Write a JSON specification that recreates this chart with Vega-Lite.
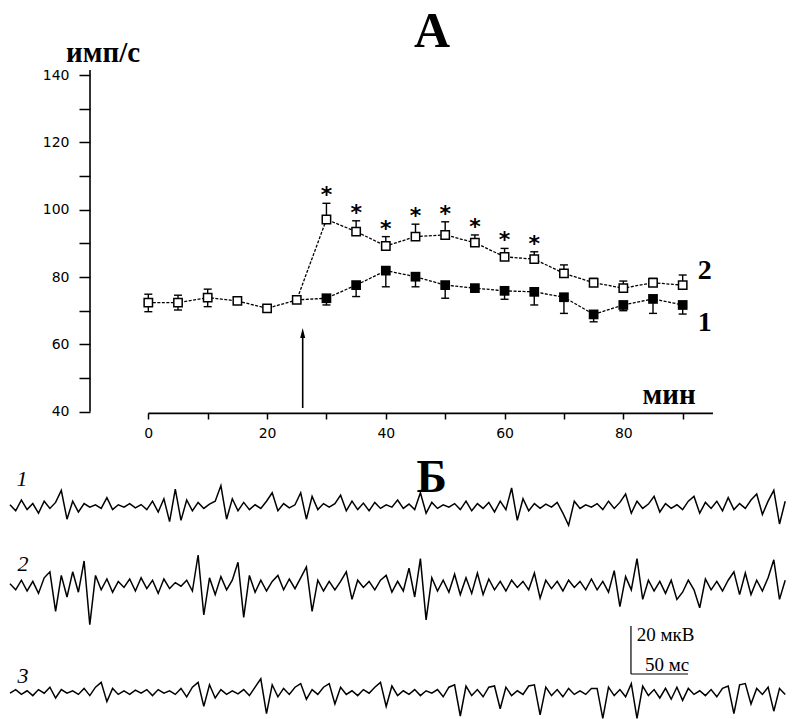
{
  "$schema": "https://vega.github.io/schema/vega-lite/v6.json",
  "width": 792,
  "height": 719,
  "autosize": {"type": "none"},
  "padding": 0,
  "background": "white",
  "config": {"view": {"stroke": null}},
  "resolve": {"scale": {"x": "independent", "y": "independent"}},
  "layer": [
    {
      "data": {"values": [
        {"s":"2","t":0,"v":72.4,"lo":69.7,"hi":74.9},
        {"s":"2","t":5,"v":72.4,"lo":70.2,"hi":74.6},
        {"s":"2","t":10,"v":73.9,"lo":71.2,"hi":76.4},
        {"s":"2","t":15,"v":72.9,"lo":71.9,"hi":73.9},
        {"s":"2","t":20,"v":70.7,"lo":70.0,"hi":71.4},
        {"s":"2","t":25,"v":73.2,"lo":72.4,"hi":74.0},
        {"s":"2","t":30,"v":97.1,"lo":97.1,"hi":101.9,"star":"*"},
        {"s":"2","t":35,"v":93.5,"lo":93.5,"hi":96.7,"star":"*"},
        {"s":"2","t":40,"v":89.2,"lo":89.2,"hi":92.0,"star":"*"},
        {"s":"2","t":45,"v":92.0,"lo":92.0,"hi":95.7,"star":"*"},
        {"s":"2","t":50,"v":92.5,"lo":92.5,"hi":96.4,"star":"*"},
        {"s":"2","t":55,"v":90.2,"lo":90.2,"hi":92.5,"star":"*"},
        {"s":"2","t":60,"v":86.0,"lo":86.0,"hi":88.5,"star":"*"},
        {"s":"2","t":65,"v":85.3,"lo":85.3,"hi":87.5,"star":"*"},
        {"s":"2","t":70,"v":81.1,"lo":81.1,"hi":83.6},
        {"s":"2","t":75,"v":78.3,"lo":78.3,"hi":79.6},
        {"s":"2","t":80,"v":76.7,"lo":76.7,"hi":78.8},
        {"s":"2","t":85,"v":78.3,"lo":78.3,"hi":79.6},
        {"s":"2","t":90,"v":77.6,"lo":77.6,"hi":80.6},
        {"s":"1","t":25,"v":73.2,"lo":73.2,"hi":73.2},
        {"s":"1","t":30,"v":73.7,"lo":71.7,"hi":73.7},
        {"s":"1","t":35,"v":77.6,"lo":74.2,"hi":77.6},
        {"s":"1","t":40,"v":81.9,"lo":77.1,"hi":81.9},
        {"s":"1","t":45,"v":80.1,"lo":77.1,"hi":80.1},
        {"s":"1","t":50,"v":77.6,"lo":73.7,"hi":77.6},
        {"s":"1","t":55,"v":76.7,"lo":75.9,"hi":76.7},
        {"s":"1","t":60,"v":75.9,"lo":73.4,"hi":75.9},
        {"s":"1","t":65,"v":75.6,"lo":71.7,"hi":75.6},
        {"s":"1","t":70,"v":74.0,"lo":69.2,"hi":74.0},
        {"s":"1","t":75,"v":68.9,"lo":66.7,"hi":68.9},
        {"s":"1","t":80,"v":71.7,"lo":70.0,"hi":71.7},
        {"s":"1","t":85,"v":73.5,"lo":69.2,"hi":73.5},
        {"s":"1","t":90,"v":71.7,"lo":69.0,"hi":71.7}
      ]},
      "layer": [
        {
          "mark": {"type": "line", "color": "black", "strokeWidth": 1.3, "strokeDash": [3, 1.5]},
          "encoding": {
            "x": {"field": "t", "type": "quantitative", "scale": {"domain": [-24.98, 108.41], "nice": false, "zero": false},
              "axis": {"values": [0,10,20,30,40,50,60,70,80,90], "labelExpr": "datum.value % 20 == 0 ? datum.label : ''", "offset": -306, "domain": false, "tickSize": 6, "tickWidth": 1.5, "tickColor": "black", "labelColor": "black", "labelFont": "DejaVu Sans", "labelFontSize": 14, "labelPadding": 7, "labelOverlap": false, "labelFlush": false, "labelBound": false, "grid": false, "title": null}},
            "y": {"field": "v", "type": "quantitative", "scale": {"domain": [-51.27, 162.28], "nice": false, "zero": false},
              "axis": {"values": [40,50,60,70,80,90,100,110,120,130,140], "labelExpr": "datum.value % 20 == 0 ? datum.label : ''", "offset": -90, "domain": false, "tickSize": 11, "tickWidth": 1.5, "tickColor": "black", "labelColor": "black", "labelFont": "DejaVu Sans", "labelFontSize": 14, "labelPadding": 10, "labelOverlap": false, "labelBound": false, "grid": false, "title": null}},
            "detail": {"field": "s"}
          }
        },
        {
          "mark": {"type": "rule", "color": "black", "strokeWidth": 1.4},
          "encoding": {
            "x": {"field": "t", "type": "quantitative", "scale": {"domain": [-24.98, 108.41], "nice": false, "zero": false}},
            "y": {"field": "lo", "type": "quantitative", "scale": {"domain": [-51.27, 162.28], "nice": false, "zero": false}},
            "y2": {"field": "hi"}
          }
        },
        {
          "mark": {"type": "rule", "color": "black", "strokeWidth": 1.4, "xOffset": -4, "x2Offset": 4},
          "encoding": {
            "x": {"field": "t", "type": "quantitative", "scale": {"domain": [-24.98, 108.41], "nice": false, "zero": false}},
            "x2": {"field": "t"},
            "y": {"field": "lo", "type": "quantitative", "scale": {"domain": [-51.27, 162.28], "nice": false, "zero": false}}
          }
        },
        {
          "mark": {"type": "rule", "color": "black", "strokeWidth": 1.4, "xOffset": -4, "x2Offset": 4},
          "encoding": {
            "x": {"field": "t", "type": "quantitative", "scale": {"domain": [-24.98, 108.41], "nice": false, "zero": false}},
            "x2": {"field": "t"},
            "y": {"field": "hi", "type": "quantitative", "scale": {"domain": [-51.27, 162.28], "nice": false, "zero": false}}
          }
        },
        {
          "transform": [{"filter": "datum.s == '1' && datum.t >= 30"}],
          "mark": {"type": "point", "shape": "square", "filled": true, "color": "black", "size": 95, "opacity": 1},
          "encoding": {
            "x": {"field": "t", "type": "quantitative", "scale": {"domain": [-24.98, 108.41], "nice": false, "zero": false}},
            "y": {"field": "v", "type": "quantitative", "scale": {"domain": [-51.27, 162.28], "nice": false, "zero": false}}
          }
        },
        {
          "transform": [{"filter": "datum.s == '2'"}],
          "mark": {"type": "point", "shape": "square", "filled": false, "fill": "white", "fillOpacity": 1, "stroke": "black", "strokeWidth": 1.5, "size": 70, "opacity": 1},
          "encoding": {
            "x": {"field": "t", "type": "quantitative", "scale": {"domain": [-24.98, 108.41], "nice": false, "zero": false}},
            "y": {"field": "v", "type": "quantitative", "scale": {"domain": [-51.27, 162.28], "nice": false, "zero": false}}
          }
        },
        {
          "transform": [{"filter": "datum.star"}],
          "mark": {"type": "text", "font": "DejaVu Sans", "fontWeight": "bold", "fontSize": 22, "color": "black", "baseline": "middle", "align": "center", "dy": -8},
          "encoding": {
            "x": {"field": "t", "type": "quantitative", "scale": {"domain": [-24.98, 108.41], "nice": false, "zero": false}},
            "y": {"field": "hi", "type": "quantitative", "scale": {"domain": [-51.27, 162.28], "nice": false, "zero": false}},
            "text": {"field": "star"}
          }
        },
        {
          "data": {"values": [
            {"t": -9.82, "t2": -9.82, "v": 40, "v2": 141.5},
            {"t": 0, "t2": 95.1, "v": 39.5, "v2": 39.5},
            {"t": 26, "t2": 26, "v": 41.1, "v2": 63.4}
          ]},
          "mark": {"type": "rule", "color": "black", "strokeWidth": 1.6},
          "encoding": {
            "x": {"field": "t", "type": "quantitative", "scale": {"domain": [-24.98, 108.41], "nice": false, "zero": false}},
            "x2": {"field": "t2"},
            "y": {"field": "v", "type": "quantitative", "scale": {"domain": [-51.27, 162.28], "nice": false, "zero": false}},
            "y2": {"field": "v2"}
          }
        },
        {
          "data": {"values": [{"t": 26, "v": 63.4}]},
          "mark": {"type": "point", "shape": "M0,-1L0.5,1L-0.5,1Z", "filled": true, "color": "black", "size": 100, "opacity": 1},
          "encoding": {
            "x": {"field": "t", "type": "quantitative", "scale": {"domain": [-24.98, 108.41], "nice": false, "zero": false}},
            "y": {"field": "v", "type": "quantitative", "scale": {"domain": [-51.27, 162.28], "nice": false, "zero": false}}
          }
        },
        {
          "data": {"values": [{"t": 47.8, "v": 152.8, "label": "А"}]},
          "mark": {"type": "text", "font": "Liberation Serif", "fontWeight": "bold", "fontSize": 50, "color": "black", "align": "center", "baseline": "middle"},
          "encoding": {
            "x": {"field": "t", "type": "quantitative", "scale": {"domain": [-24.98, 108.41], "nice": false, "zero": false}},
            "y": {"field": "v", "type": "quantitative", "scale": {"domain": [-51.27, 162.28], "nice": false, "zero": false}},
            "text": {"field": "label"}
          }
        },
        {
          "data": {"values": [{"t": -7.63, "v": 146.5, "label": "имп/с"}, {"t": 87.7, "v": 44.9, "label": "мин"}]},
          "mark": {"type": "text", "font": "Liberation Serif", "fontWeight": "bold", "fontSize": 29, "color": "black", "align": "center", "baseline": "middle"},
          "encoding": {
            "x": {"field": "t", "type": "quantitative", "scale": {"domain": [-24.98, 108.41], "nice": false, "zero": false}},
            "y": {"field": "v", "type": "quantitative", "scale": {"domain": [-51.27, 162.28], "nice": false, "zero": false}},
            "text": {"field": "label"}
          }
        },
        {
          "data": {"values": [{"t": 93.7, "v": 81.8, "label": "2"}, {"t": 93.7, "v": 66.4, "label": "1"}]},
          "mark": {"type": "text", "font": "Liberation Serif", "fontWeight": "bold", "fontSize": 28, "color": "black", "align": "center", "baseline": "middle"},
          "encoding": {
            "x": {"field": "t", "type": "quantitative", "scale": {"domain": [-24.98, 108.41], "nice": false, "zero": false}},
            "y": {"field": "v", "type": "quantitative", "scale": {"domain": [-51.27, 162.28], "nice": false, "zero": false}},
            "text": {"field": "label"}
          }
        }
      ]
    },
    {
      "encoding": {
        "x": {"field": "ms", "type": "quantitative", "scale": {"domain": [-8.77, 685.96], "nice": false, "zero": false}, "axis": null},
        "y": {"field": "uv", "type": "quantitative", "scale": {"domain": [-88.75, 210.83], "nice": false, "zero": false}, "axis": null}
      },
      "layer": [
        {
          "data": {"values": [
            {"ms":0,"uv":0.5},{"ms":5,"uv":-2},{"ms":10,"uv":2.5},{"ms":15,"uv":-1.5},{"ms":20,"uv":1},{"ms":25,"uv":-3},{"ms":30,"uv":2},{"ms":35,"uv":-1},{"ms":40,"uv":1.5},{"ms":45,"uv":6.5},
            {"ms":50,"uv":-5.5},{"ms":55,"uv":2},{"ms":60,"uv":-2.5},{"ms":65,"uv":1},{"ms":70,"uv":-0.5},{"ms":75,"uv":0.5},{"ms":80,"uv":-1},{"ms":85,"uv":3.5},{"ms":90,"uv":-1.5},{"ms":95,"uv":0.5},
            {"ms":100,"uv":-0.5},{"ms":105,"uv":1},{"ms":110,"uv":-0.8},{"ms":115,"uv":0.6},{"ms":120,"uv":-1.5},{"ms":125,"uv":2},{"ms":130,"uv":-2.5},{"ms":135,"uv":3},{"ms":140,"uv":-6.5},{"ms":145,"uv":7},
            {"ms":150,"uv":-6},{"ms":155,"uv":2.5},{"ms":160,"uv":-2},{"ms":165,"uv":1.5},{"ms":170,"uv":-1},{"ms":175,"uv":0.8},{"ms":180,"uv":2},{"ms":185,"uv":8.5},{"ms":190,"uv":-5.5},{"ms":195,"uv":3},
            {"ms":200,"uv":-2},{"ms":205,"uv":1.5},{"ms":210,"uv":-1.5},{"ms":215,"uv":0.5},{"ms":220,"uv":-1},{"ms":225,"uv":2},{"ms":230,"uv":5.5},{"ms":235,"uv":-2},{"ms":240,"uv":1},{"ms":245,"uv":-0.8},
            {"ms":250,"uv":0.5},{"ms":255,"uv":5.5},{"ms":260,"uv":-5.5},{"ms":265,"uv":4},{"ms":270,"uv":-1.5},{"ms":275,"uv":1},{"ms":280,"uv":-0.5},{"ms":285,"uv":1},{"ms":290,"uv":4.5},{"ms":295,"uv":-2},
            {"ms":300,"uv":2},{"ms":305,"uv":-1.5},{"ms":310,"uv":1.2},{"ms":315,"uv":-2},{"ms":320,"uv":1.5},{"ms":325,"uv":-1},{"ms":330,"uv":0.5},{"ms":335,"uv":-0.5},{"ms":340,"uv":2.5},{"ms":345,"uv":-1},
            {"ms":350,"uv":0.8},{"ms":355,"uv":-1.5},{"ms":360,"uv":5.5},{"ms":365,"uv":-3},{"ms":370,"uv":1.5},{"ms":375,"uv":-1},{"ms":380,"uv":0.5},{"ms":385,"uv":-0.5},{"ms":390,"uv":1},{"ms":395,"uv":-1.5},
            {"ms":400,"uv":2},{"ms":405,"uv":-2},{"ms":410,"uv":1},{"ms":415,"uv":-1},{"ms":420,"uv":1.5},{"ms":425,"uv":-2.5},{"ms":430,"uv":2},{"ms":435,"uv":-1.5},{"ms":440,"uv":7.5},{"ms":445,"uv":-6},
            {"ms":450,"uv":3},{"ms":455,"uv":-2},{"ms":460,"uv":1},{"ms":465,"uv":-1},{"ms":470,"uv":0.8},{"ms":475,"uv":-0.5},{"ms":480,"uv":1.5},{"ms":485,"uv":-3},{"ms":490,"uv":-8},{"ms":495,"uv":2},
            {"ms":500,"uv":-1},{"ms":505,"uv":0.5},{"ms":510,"uv":-0.5},{"ms":515,"uv":1},{"ms":520,"uv":-1.5},{"ms":525,"uv":2},{"ms":530,"uv":-1},{"ms":535,"uv":1.5},{"ms":540,"uv":5},{"ms":545,"uv":-3},
            {"ms":550,"uv":2},{"ms":555,"uv":-1},{"ms":560,"uv":0.8},{"ms":565,"uv":4},{"ms":570,"uv":-2.5},{"ms":575,"uv":1},{"ms":580,"uv":-1},{"ms":585,"uv":0.5},{"ms":590,"uv":-1.5},{"ms":595,"uv":2},
            {"ms":600,"uv":4},{"ms":605,"uv":-3},{"ms":610,"uv":1.5},{"ms":615,"uv":-1},{"ms":620,"uv":2},{"ms":625,"uv":-2},{"ms":630,"uv":3.5},{"ms":635,"uv":-1.5},{"ms":640,"uv":1},{"ms":645,"uv":-1},
            {"ms":650,"uv":2.5},{"ms":655,"uv":5},{"ms":660,"uv":-3.5},{"ms":665,"uv":2},{"ms":670,"uv":6.5},{"ms":675,"uv":-7.5},{"ms":680,"uv":2}
          ]},
          "mark": {"type": "line", "color": "black", "strokeWidth": 1.5}
        },
        {
          "data": {"values": [{"ms": 10.5, "uv": 11.25, "label": "1"}]},
          "mark": {"type": "text", "font": "Liberation Serif", "fontStyle": "italic", "fontSize": 22, "color": "black", "align": "center", "baseline": "middle"},
          "encoding": {"text": {"field": "label"}}
        },
        {
          "data": {"values": [{"ms": 370, "uv": 11.7, "label": "Б"}]},
          "mark": {"type": "text", "font": "Liberation Serif", "fontWeight": "bold", "fontSize": 46, "color": "black", "align": "center", "baseline": "middle"},
          "encoding": {"text": {"field": "label"}}
        }
      ]
    },
    {
      "encoding": {
        "x": {"field": "ms", "type": "quantitative", "scale": {"domain": [-8.77, 685.96], "nice": false, "zero": false}, "axis": null},
        "y": {"field": "uv", "type": "quantitative", "scale": {"domain": [-55.83, 243.75], "nice": false, "zero": false}, "axis": null}
      },
      "layer": [
        {
          "data": {"values": [
            {"ms":0,"uv":0.5},{"ms":5,"uv":-2},{"ms":10,"uv":2},{"ms":15,"uv":-2.5},{"ms":20,"uv":1.5},{"ms":25,"uv":-3.5},{"ms":30,"uv":3},{"ms":35,"uv":5.5},{"ms":40,"uv":-11},{"ms":45,"uv":4},
            {"ms":50,"uv":-5},{"ms":55,"uv":5.5},{"ms":60,"uv":-3},{"ms":65,"uv":10},{"ms":70,"uv":-16.5},{"ms":75,"uv":4},{"ms":80,"uv":-2},{"ms":85,"uv":2.5},{"ms":90,"uv":-3},{"ms":95,"uv":1.5},
            {"ms":100,"uv":-1},{"ms":105,"uv":2.5},{"ms":110,"uv":-2.5},{"ms":115,"uv":3},{"ms":120,"uv":-1.5},{"ms":125,"uv":2},{"ms":130,"uv":-3.5},{"ms":135,"uv":2.5},{"ms":140,"uv":-1.5},{"ms":145,"uv":1},
            {"ms":150,"uv":-0.5},{"ms":155,"uv":2},{"ms":160,"uv":-2.5},{"ms":165,"uv":12.5},{"ms":170,"uv":-12.5},{"ms":175,"uv":3},{"ms":180,"uv":-4},{"ms":185,"uv":3.5},{"ms":190,"uv":-2},{"ms":195,"uv":2},
            {"ms":200,"uv":9.5},{"ms":205,"uv":-13.5},{"ms":210,"uv":4},{"ms":215,"uv":-3},{"ms":220,"uv":2},{"ms":225,"uv":-2.5},{"ms":230,"uv":1.5},{"ms":235,"uv":4},{"ms":240,"uv":-2},{"ms":245,"uv":2.5},
            {"ms":250,"uv":-1.5},{"ms":255,"uv":3},{"ms":260,"uv":7.5},{"ms":265,"uv":-11},{"ms":270,"uv":2},{"ms":275,"uv":-2.5},{"ms":280,"uv":1.5},{"ms":285,"uv":-2},{"ms":290,"uv":1.5},{"ms":295,"uv":5.5},
            {"ms":300,"uv":-6},{"ms":305,"uv":2},{"ms":310,"uv":-1},{"ms":315,"uv":1.5},{"ms":320,"uv":-2},{"ms":325,"uv":2},{"ms":330,"uv":4},{"ms":335,"uv":-3},{"ms":340,"uv":1.5},{"ms":345,"uv":-2.5},
            {"ms":350,"uv":7},{"ms":355,"uv":-5},{"ms":360,"uv":11},{"ms":365,"uv":-14.5},{"ms":370,"uv":3},{"ms":375,"uv":-2.5},{"ms":380,"uv":2},{"ms":385,"uv":-3},{"ms":390,"uv":4.5},{"ms":395,"uv":-4},
            {"ms":400,"uv":3},{"ms":405,"uv":-3.5},{"ms":410,"uv":5},{"ms":415,"uv":-4},{"ms":420,"uv":2.5},{"ms":425,"uv":-2},{"ms":430,"uv":1.5},{"ms":435,"uv":-2.5},{"ms":440,"uv":2},{"ms":445,"uv":-1},
            {"ms":450,"uv":1.5},{"ms":455,"uv":-2},{"ms":460,"uv":5},{"ms":465,"uv":-5.5},{"ms":470,"uv":2},{"ms":475,"uv":-1.5},{"ms":480,"uv":1.5},{"ms":485,"uv":-2.5},{"ms":490,"uv":2},{"ms":495,"uv":-1},
            {"ms":500,"uv":1.5},{"ms":505,"uv":-2},{"ms":510,"uv":2.5},{"ms":515,"uv":-2},{"ms":520,"uv":1.5},{"ms":525,"uv":-3},{"ms":530,"uv":6},{"ms":535,"uv":-9},{"ms":540,"uv":3.5},{"ms":545,"uv":-2},
            {"ms":550,"uv":11},{"ms":555,"uv":-6},{"ms":560,"uv":2},{"ms":565,"uv":-2.5},{"ms":570,"uv":1.5},{"ms":575,"uv":-3.5},{"ms":580,"uv":2},{"ms":585,"uv":-6},{"ms":590,"uv":-3},{"ms":595,"uv":2},
            {"ms":600,"uv":-2},{"ms":605,"uv":-9.5},{"ms":610,"uv":2.5},{"ms":615,"uv":-2},{"ms":620,"uv":1.5},{"ms":625,"uv":-2.5},{"ms":630,"uv":2},{"ms":635,"uv":5.5},{"ms":640,"uv":-4},{"ms":645,"uv":5},
            {"ms":650,"uv":-4},{"ms":655,"uv":2},{"ms":660,"uv":-2.5},{"ms":665,"uv":3},{"ms":670,"uv":10.5},{"ms":675,"uv":-6},{"ms":680,"uv":2}
          ]},
          "mark": {"type": "line", "color": "black", "strokeWidth": 1.5}
        },
        {
          "data": {"values": [{"ms": 11.4, "uv": 8.75, "label": "2"}]},
          "mark": {"type": "text", "font": "Liberation Serif", "fontStyle": "italic", "fontSize": 22, "color": "black", "align": "center", "baseline": "middle"},
          "encoding": {"text": {"field": "label"}}
        }
      ]
    },
    {
      "encoding": {
        "x": {"field": "ms", "type": "quantitative", "scale": {"domain": [-8.77, 685.96], "nice": false, "zero": false}, "axis": null},
        "y": {"field": "uv", "type": "quantitative", "scale": {"domain": [-11.25, 288.33], "nice": false, "zero": false}, "axis": null}
      },
      "layer": [
        {
          "data": {"values": [
            {"ms":0,"uv":-0.5},{"ms":5,"uv":1},{"ms":10,"uv":-1},{"ms":15,"uv":0.5},{"ms":20,"uv":-1.5},{"ms":25,"uv":1},{"ms":30,"uv":-0.5},{"ms":35,"uv":2},{"ms":40,"uv":-2.5},{"ms":45,"uv":1},
            {"ms":50,"uv":-0.5},{"ms":55,"uv":0.5},{"ms":60,"uv":-1},{"ms":65,"uv":1.5},{"ms":70,"uv":-1.5},{"ms":75,"uv":2},{"ms":80,"uv":4},{"ms":85,"uv":-4},{"ms":90,"uv":1.5},{"ms":95,"uv":-1},
            {"ms":100,"uv":0.5},{"ms":105,"uv":-1},{"ms":110,"uv":0.8},{"ms":115,"uv":-0.5},{"ms":120,"uv":1},{"ms":125,"uv":-1.5},{"ms":130,"uv":1},{"ms":135,"uv":-0.5},{"ms":140,"uv":0.5},{"ms":145,"uv":-1},
            {"ms":150,"uv":1.5},{"ms":155,"uv":-2},{"ms":160,"uv":2},{"ms":165,"uv":4},{"ms":170,"uv":-6},{"ms":175,"uv":3},{"ms":180,"uv":-2.5},{"ms":185,"uv":1},{"ms":190,"uv":-1},{"ms":195,"uv":0.5},
            {"ms":200,"uv":-0.8},{"ms":205,"uv":1},{"ms":210,"uv":-1.5},{"ms":215,"uv":2},{"ms":220,"uv":5.5},{"ms":225,"uv":-9},{"ms":230,"uv":3},{"ms":235,"uv":-2},{"ms":240,"uv":1.5},{"ms":245,"uv":-1},
            {"ms":250,"uv":2},{"ms":255,"uv":3.5},{"ms":260,"uv":-3},{"ms":265,"uv":1},{"ms":270,"uv":-1},{"ms":275,"uv":2},{"ms":280,"uv":3.5},{"ms":285,"uv":-5},{"ms":290,"uv":2},{"ms":295,"uv":-1},
            {"ms":300,"uv":0.5},{"ms":305,"uv":-1.5},{"ms":310,"uv":1},{"ms":315,"uv":-0.5},{"ms":320,"uv":2},{"ms":325,"uv":4},{"ms":330,"uv":-6},{"ms":335,"uv":2.5},{"ms":340,"uv":-1.5},{"ms":345,"uv":0.5},
            {"ms":350,"uv":-1},{"ms":355,"uv":1},{"ms":360,"uv":-1.5},{"ms":365,"uv":0.5},{"ms":370,"uv":-0.5},{"ms":375,"uv":1},{"ms":380,"uv":-2},{"ms":385,"uv":2},{"ms":390,"uv":3},{"ms":395,"uv":-10},
            {"ms":400,"uv":2.5},{"ms":405,"uv":-1.5},{"ms":410,"uv":1},{"ms":415,"uv":-2},{"ms":420,"uv":2},{"ms":425,"uv":2.5},{"ms":430,"uv":-7},{"ms":435,"uv":2},{"ms":440,"uv":-1.5},{"ms":445,"uv":0.5},
            {"ms":450,"uv":-1},{"ms":455,"uv":2.5},{"ms":460,"uv":3},{"ms":465,"uv":-9.5},{"ms":470,"uv":2},{"ms":475,"uv":-1.5},{"ms":480,"uv":1},{"ms":485,"uv":-2},{"ms":490,"uv":1.5},{"ms":495,"uv":-1},
            {"ms":500,"uv":0.5},{"ms":505,"uv":-1},{"ms":510,"uv":1.5},{"ms":515,"uv":1.5},{"ms":520,"uv":-11},{"ms":525,"uv":2},{"ms":530,"uv":-1.5},{"ms":535,"uv":1},{"ms":540,"uv":-2},{"ms":545,"uv":3.5},
            {"ms":550,"uv":-11},{"ms":555,"uv":2.5},{"ms":560,"uv":-1.5},{"ms":565,"uv":1},{"ms":570,"uv":-2.5},{"ms":575,"uv":1.5},{"ms":580,"uv":-3},{"ms":585,"uv":2},{"ms":590,"uv":-3.5},{"ms":595,"uv":1.5},
            {"ms":600,"uv":-1},{"ms":605,"uv":0.5},{"ms":610,"uv":-1.5},{"ms":615,"uv":1},{"ms":620,"uv":-2},{"ms":625,"uv":1.5},{"ms":630,"uv":2.5},{"ms":635,"uv":-9},{"ms":640,"uv":3},{"ms":645,"uv":3.5},
            {"ms":650,"uv":-5},{"ms":655,"uv":1.5},{"ms":660,"uv":-1},{"ms":665,"uv":2},{"ms":670,"uv":-8},{"ms":675,"uv":1.5},{"ms":680,"uv":-1}
          ]},
          "mark": {"type": "line", "color": "black", "strokeWidth": 1.5}
        },
        {
          "data": {"values": [{"ms": 11.4, "uv": 6.7, "label": "3"}]},
          "mark": {"type": "text", "font": "Liberation Serif", "fontStyle": "italic", "fontSize": 22, "color": "black", "align": "center", "baseline": "middle"},
          "encoding": {"text": {"field": "label"}}
        },
        {
          "data": {"values": [
            {"ms": 544.7, "ms2": 544.7, "uv": 7.5, "uv2": 27.5},
            {"ms": 544.7, "ms2": 594.7, "uv": 7.5, "uv2": 7.5}
          ]},
          "mark": {"type": "rule", "color": "black", "strokeWidth": 1.2},
          "encoding": {"x2": {"field": "ms2"}, "y2": {"field": "uv2"}}
        },
        {
          "data": {"values": [{"ms": 549.7, "uv": 23.75, "label": "20 мкВ"}, {"ms": 557, "uv": 11.25, "label": "50 мс"}]},
          "mark": {"type": "text", "font": "Liberation Serif", "fontSize": 19, "color": "black", "align": "left", "baseline": "middle"},
          "encoding": {"text": {"field": "label"}}
        }
      ]
    }
  ]
}
